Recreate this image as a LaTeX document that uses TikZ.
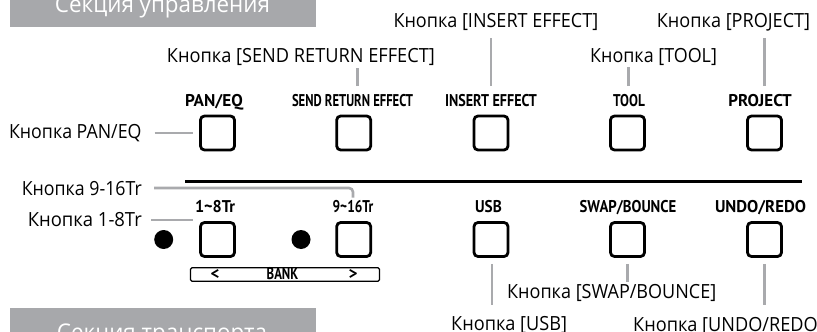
\documentclass[tikz,border=0pt]{standalone}
\usepackage{fontspec}
\usepackage{graphicx}
\setmainfont{Open Sans}
\newfontfamily\condfont{PT Sans}
\newcommand\fitto[2]{\resizebox{#1}{\height}{#2}}
\definecolor{hdrgray}{HTML}{A7A8AB}
\definecolor{lngray}{HTML}{A9AAAD}
\tikzset{
  btn/.style={draw=black, line width=2.8pt, rounded corners=4pt, minimum width=34pt, minimum height=34pt, inner sep=0pt},
  calltxt/.style={inner sep=0pt, font=\fontsize{19.5}{22}\selectfont},
  key/.style={inner sep=0pt, anchor=base, font=\condfont\bfseries\fontsize{17}{19}\selectfont},
  conn/.style={draw=lngray, line width=2.6pt},
  hdrbox/.style={fill=hdrgray},
  hdrtxt/.style={inner sep=0pt, anchor=base, text=white, font=\fontsize{23}{26}\selectfont},
  leddot/.style={circle, fill=black, minimum size=19pt, inner sep=0pt},
  bankbar/.style={draw=black, line width=1.4pt, rounded corners=1.5pt, minimum width=189pt, minimum height=13.5pt, inner sep=0pt}
}
\begin{document}
\begin{tikzpicture}[x=1pt,y=-1pt]
\useasboundingbox (0,0) rectangle (817,332);
\clip (0,0) rectangle (817,332);
% section headers
\fill[hdrbox] (10,-20) rectangle (316,27.3);
\node[hdrtxt] (hdrA) at (162.5,12.3) {\fitto{215pt}{Секция управления}};
\fill[hdrbox] (10,307.7) rectangle (316,360);
\node[hdrtxt] (hdrB) at (162,340) {\fitto{210pt}{Секция транспорта}};
% separator
\draw[line width=3pt] (185,181.5) -- (802,181.5);
% top row buttons
\node[btn] (bPAN)  at (217.5,133) {};
\node[btn] (bSEND) at (353.7,133) {};
\node[btn] (bINS)  at (491,133) {};
\node[btn] (bTOOL) at (627.5,133) {};
\node[btn] (bPROJ) at (764.5,133) {};
\node[key] (kPAN)  at (214,106) {\fitto{57.7pt}{PAN/EQ}};
\node[key] (kSEND) at (352.5,106) {\fitto{121pt}{SEND RETURN EFFECT}};
\node[key] (kINS)  at (491,106) {\fitto{91.7pt}{INSERT EFFECT}};
\node[key] (kTOOL) at (629,106) {\fitto{31.7pt}{TOOL}};
\node[key] (kPROJ) at (760,106) {\fitto{63.3pt}{PROJECT}};
% bottom row buttons
\node[btn] (b18)   at (217.5,239.5) {};
\node[btn] (b916)  at (353.7,239.5) {};
\node[btn] (bUSB)  at (491,239.5) {};
\node[btn] (bSWAP) at (627.5,239.5) {};
\node[btn] (bUNDO) at (764.5,239.5) {};
\node[key] (k18)   at (215,212) {\fitto{40pt}{1\textasciitilde8Tr}};
\node[key] (k916)  at (353,212) {\fitto{40.7pt}{9\textasciitilde16Tr}};
\node[key] (kUSB)  at (488.5,212) {\fitto{26.7pt}{USB}};
\node[key] (kSWAP) at (628,212) {\fitto{96.7pt}{SWAP/BOUNCE}};
\node[key] (kUNDO) at (760.5,212) {\fitto{91pt}{UNDO/REDO}};
\node[leddot] (d1) at (163.7,239.5) {};
\node[leddot] (d2) at (301,239.5) {};
\node[bankbar] (bank) at (285,274.5) {};
\node[key] (bankL) at (215,279.3) {<};
\node[key] (bankT) at (282.5,279.3) {\fitto{31.6pt}{BANK}};
\node[key] (bankR) at (353,279.3) {>};
% callout labels
\node[calltxt, anchor=base east] (lPAN) at (141.7,138.7) {\fitto{132.4pt}{Кнопка PAN/EQ}};
\node[calltxt, anchor=base east] (l916) at (142,195) {\fitto{120pt}{Кнопка 9-16Tr}};
\node[calltxt, anchor=base east] (l18)  at (142,226.7) {\fitto{114pt}{Кнопка 1-8Tr}};
\node[calltxt, anchor=base west] (lSEND) at (166.7,62.5) {\fitto{268pt}{Кнопка [SEND RETURN EFFECT]}};
\node[calltxt, anchor=base west] (lINS)  at (393.3,27.3) {\fitto{204.7pt}{Кнопка [INSERT EFFECT]}};
\node[calltxt, anchor=base west] (lTOOL) at (590,62.5) {\fitto{126.7pt}{Кнопка [TOOL]}};
\node[calltxt, anchor=base west] (lPROJ) at (656.7,27.3) {\fitto{153.3pt}{Кнопка [PROJECT]}};
\node[calltxt, anchor=base west] (lSWAP) at (507,298.3) {\fitto{209pt}{Кнопка [SWAP/BOUNCE]}};
\node[calltxt, anchor=base west] (lUSB)  at (451,330) {\scalebox{0.93}[1]{Кнопка [USB]}};
\node[calltxt, anchor=base west] (lUNDO) at (633,331.5) {\scalebox{0.93}[1]{Кнопка [UNDO/REDO]}};
% connectors
\draw[conn] ([xshift=13pt]lPAN.east |- bPAN.west) -- ([xshift=-6pt]bPAN.west);
\coordinate (c916) at (154,188);
\draw[conn, rounded corners=4pt] (c916) -| ([yshift=2pt]k916.north);
\coordinate (c18) at (151,220);
\draw[conn] (c18) -- ([xshift=-6pt]c18 -| b18.west);
\draw[conn] ([xshift=3.6pt,yshift=28.6pt]bSEND.north) -- ++(0,-17.7);
\draw[conn] ([yshift=28.6pt]bINS.north) -- ++(0,-48.3);
\draw[conn] ([xshift=0.8pt,yshift=28.6pt]bTOOL.north) -- ++(0,-19.3);
\draw[conn] ([xshift=-0.2pt,yshift=28.6pt]bPROJ.north) -- ++(0,-48.3);
\draw[conn] ([xshift=0.8pt,yshift=-6pt]bUSB.south) -- ++(0,41);
\draw[conn] ([yshift=-6pt]bSWAP.south) -- ++(0,18);
\draw[conn] ([yshift=-6pt]bUNDO.south) -- ++(0,41);
\end{tikzpicture}
\end{document}
